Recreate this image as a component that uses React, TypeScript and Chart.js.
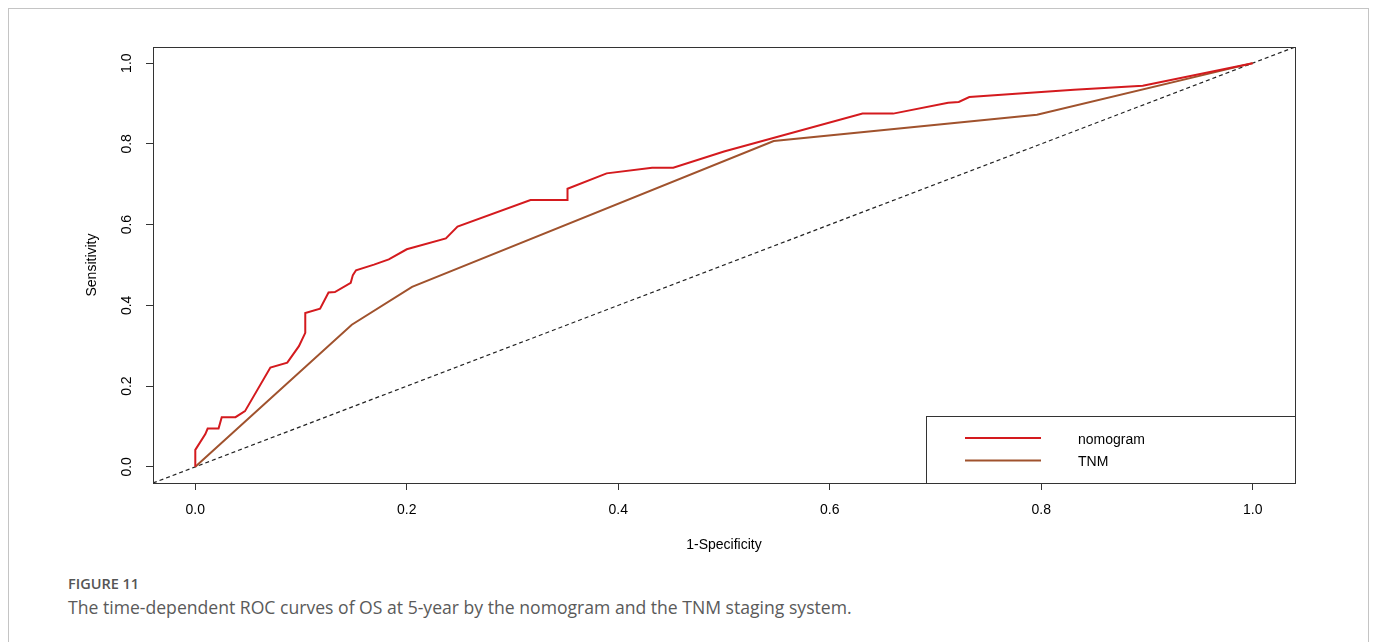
import React, { useEffect, useRef } from "react";
import { Chart, registerables } from "chart.js";

Chart.register(...registerables);

// ---- data ----
const nomogramX = [0, 0, 0.0095, 0.0117, 0.022, 0.025, 0.038, 0.047, 0.071, 0.087, 0.098, 0.104, 0.104, 0.118, 0.126, 0.132, 0.147, 0.149, 0.152, 0.169, 0.183, 0.2, 0.237, 0.248, 0.317, 0.352, 0.352, 0.389, 0.432, 0.452, 0.5, 0.631, 0.66, 0.712, 0.722, 0.732, 0.776, 0.831, 0.896, 1];
const nomogramY = [0, 0.042, 0.081, 0.095, 0.095, 0.123, 0.123, 0.138, 0.246, 0.258, 0.299, 0.332, 0.381, 0.392, 0.432, 0.433, 0.456, 0.475, 0.487, 0.501, 0.514, 0.539, 0.566, 0.595, 0.661, 0.661, 0.689, 0.727, 0.741, 0.741, 0.781, 0.875, 0.875, 0.902, 0.904, 0.916, 0.924, 0.934, 0.944, 1];
const tnmX = [0, 0.148, 0.205, 0.547, 0.796, 1];
const tnmY = [0, 0.352, 0.446, 0.807, 0.872, 1];
const refX = [-0.04, 1.04];
const refY = [-0.04, 1.04];
const tickValues = [0, 0.2, 0.4, 0.6, 0.8, 1.0];
const seriesLabels = ["nomogram", "TNM"];
const seriesColors = ["#D41A1E", "#A0522D"];

const FONT = "'Liberation Sans', Arial, Helvetica, sans-serif";

const zip = (xs: number[], ys: number[]) => xs.map((x, i) => ({ x, y: ys[i] }));

const boxPlugin = {
  id: "rbox",
  afterDraw(chart: any) {
    const { ctx, chartArea: a, scales } = chart;
    ctx.save();
    ctx.strokeStyle = "#333";
    ctx.lineWidth = 1;
    ctx.strokeRect(Math.round(a.left) + 0.5, Math.round(a.top) + 0.5, Math.round(a.right - a.left), Math.round(a.bottom - a.top));
    // y tick labels rotated (R style)
    const ys = scales.y;
    ctx.fillStyle = "#000";
    ctx.font = `14px ${FONT}`;
    ctx.textAlign = "center";
    ctx.textBaseline = "middle";
    ys.ticks.forEach((t: any) => {
      const py = ys.getPixelForValue(t.value);
      ctx.save();
      ctx.translate(127, py);
      ctx.rotate(-Math.PI / 2);
      ctx.fillText(Number(t.value).toFixed(1), 0, 0);
      ctx.restore();
    });
    // legend
    const lx = 926, ly = 416;
    const lw = a.right - lx, lh = a.bottom - ly;
    ctx.fillStyle = "#fff";
    ctx.fillRect(lx, ly, lw, lh);
    ctx.strokeStyle = "#333";
    ctx.strokeRect(lx + 0.5, ly + 0.5, lw, lh);
    const ds = chart.data.datasets.filter((d: any) => !d.hideInLegend);
    ds.forEach((d: any, i: number) => {
      const yy = 438 + i * 22.5;
      ctx.strokeStyle = d.borderColor;
      ctx.lineWidth = 2;
      ctx.beginPath();
      ctx.moveTo(965, yy);
      ctx.lineTo(1041, yy);
      ctx.stroke();
      ctx.fillStyle = "#000";
      ctx.textAlign = "left";
      ctx.textBaseline = "middle";
      ctx.fillText(d.label, 1078, yy + 2);
    });
    ctx.restore();
  },
};

export default function App() {
  const ref = useRef<HTMLCanvasElement | null>(null);
  useEffect(() => {
    if (!ref.current) return;
    const chart = new Chart(ref.current, {
      type: "scatter",
      data: {
        datasets: [
          {
            label: seriesLabels[0],
            data: zip(nomogramX, nomogramY),
            showLine: true,
            borderColor: seriesColors[0],
            borderWidth: 2,
            pointRadius: 0,
            fill: false,
            tension: 0,
          } as any,
          {
            label: seriesLabels[1],
            data: zip(tnmX, tnmY),
            showLine: true,
            borderColor: seriesColors[1],
            borderWidth: 2,
            pointRadius: 0,
            fill: false,
            tension: 0,
          } as any,
          {
            label: "reference",
            hideInLegend: true,
            data: zip(refX, refY),
            showLine: true,
            borderColor: "#222",
            borderWidth: 1.2,
            borderDash: [4, 3],
            pointRadius: 0,
            fill: false,
          } as any,
        ],
      },
      options: {
        animation: false,
        responsive: false,
        maintainAspectRatio: false,
        layout: { padding: { left: 0, top: 47, right: 78, bottom: 0 } },
        plugins: { legend: { display: false }, tooltip: { enabled: false } },
        scales: {
          x: {
            type: "linear",
            min: -0.04,
            max: 1.04,
            afterBuildTicks: (s: any) => {
              s.ticks = tickValues.map((v) => ({ value: v }));
            },
            afterFit: (s: any) => {
              s.height = 87;
            },
            grid: { drawOnChartArea: false, drawTicks: true, tickLength: 7, color: "#333", lineWidth: 1 },
            border: { display: false },
            ticks: {
              color: "#000",
              font: { family: FONT, size: 14 },
              padding: 12,
              maxRotation: 0,
              minRotation: 0,
              callback: (v: any) => Number(v).toFixed(1),
            },
            title: {
              display: true,
              text: "1-Specificity",
              color: "#000",
              font: { family: FONT, size: 14 },
              padding: { top: 0, bottom: 16 },
            },
          },
          y: {
            type: "linear",
            min: -0.04,
            max: 1.04,
            afterBuildTicks: (s: any) => {
              s.ticks = tickValues.map((v) => ({ value: v }));
            },
            afterFit: (s: any) => {
              s.width = 153;
            },
            grid: { drawOnChartArea: false, drawTicks: true, tickLength: 7, color: "#333", lineWidth: 1 },
            border: { display: false },
            ticks: { display: false },
            title: {
              display: true,
              text: "Sensitivity",
              color: "#000",
              font: { family: FONT, size: 14 },
              padding: { top: 83.6, bottom: 0 },
            },
          },
        },
      },
      plugins: [boxPlugin],
    } as any);
    return () => chart.destroy();
  }, []);

  return (
    <div style={{ position: "absolute", left: 0, top: 0, width: 1373, height: 642, background: "#fff", overflow: "hidden" }}>
      <div style={{ position: "absolute", left: 8, top: 8, width: 1361, height: 660, border: "1px solid #c4c4c4", boxSizing: "border-box" }} />
      <canvas ref={ref} width={1373} height={570} style={{ position: "absolute", left: 0, top: 0, width: 1373, height: 570 }} />
      <div style={{ position: "absolute", left: 68, top: 575, fontFamily: "'Open Sans', 'Noto Sans', sans-serif", fontSize: 14.5, fontWeight: 600, color: "#555", whiteSpace: "nowrap", lineHeight: "18px" }}>
        FIGURE 11
      </div>
      <div style={{ position: "absolute", left: 68, top: 595, fontFamily: "'Open Sans', 'Noto Sans', sans-serif", fontSize: 17.6, color: "#5a5a5a", whiteSpace: "nowrap", lineHeight: "24px" }}>
        The time-dependent ROC curves of OS at 5-year by the nomogram and the TNM staging system.
      </div>
    </div>
  );
}
